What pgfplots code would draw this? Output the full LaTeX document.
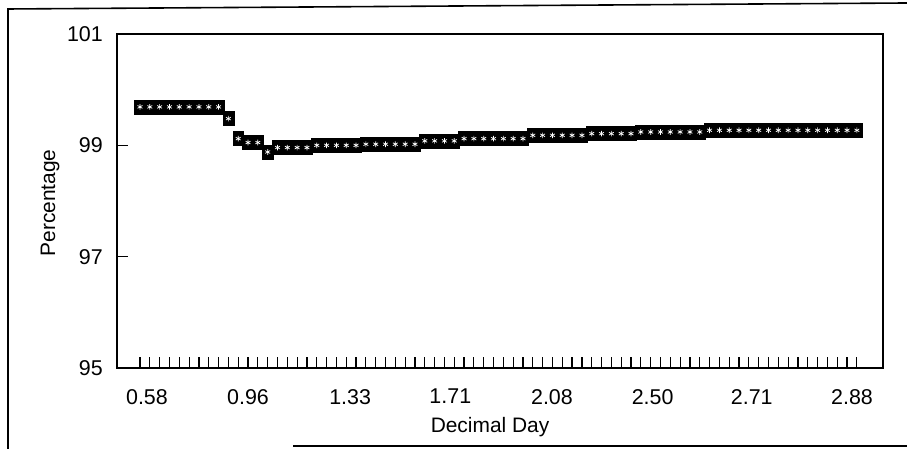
\documentclass[border=0pt]{standalone}
\usepackage{pgfplots}
\usepackage{pgfplotstable}
\pgfplotsset{compat=1.18}
\usepackage{fontspec}
\setmainfont{Liberation Sans}
\pgfplotstableread{
i v
0 99.69
1 99.69
2 99.69
3 99.69
4 99.69
5 99.69
6 99.69
7 99.69
8 99.69
9 99.48
10 99.12
11 99.05
12 99.05
13 98.88
14 98.96
15 98.96
16 98.96
17 98.96
18 99.00
19 99.00
20 99.00
21 99.00
22 99.00
23 99.02
24 99.02
25 99.02
26 99.02
27 99.02
28 99.02
29 99.08
30 99.08
31 99.08
32 99.08
33 99.12
34 99.12
35 99.12
36 99.12
37 99.12
38 99.12
39 99.12
40 99.18
41 99.18
42 99.18
43 99.18
44 99.18
45 99.18
46 99.21
47 99.21
48 99.21
49 99.21
50 99.21
51 99.24
52 99.24
53 99.24
54 99.24
55 99.24
56 99.24
57 99.24
58 99.27
59 99.27
60 99.27
61 99.27
62 99.27
63 99.27
64 99.27
65 99.27
66 99.27
67 99.27
68 99.27
69 99.27
70 99.27
71 99.27
72 99.27
73 99.27
}\datatable
\begin{document}
\begin{tikzpicture}[x=1bp,y=1bp]
\useasboundingbox (0,0) rectangle (907,449);
\draw[line width=1.6bp] (8,0) -- (8,440) -- (907,446);
\draw[line width=1.6bp] (293,3) -- (907,3);
\begin{axis}[
  at={(117bp,81bp)}, anchor=south west,
  scale only axis, width=766bp, height=334bp,
  xmin=-2.342, xmax=75.66, ymin=95, ymax=101,
  ytick={95,97,99,101},
  xtick={0.71,11.0,21.4,31.6,41.95,52.2,62.3,72.5},
  xticklabels={0.58,0.96,1.33,1.71,2.08,2.50,2.71,2.88},
  minor xtick={0,1,...,73},
  xtick pos=bottom, ytick pos=left,
  tick align=inside,
  major tick length=11bp, minor tick length=11bp,
  major x tick style={draw=none},
  every tick/.style={black, line width=1.2bp},
  axis line style={line width=1.6bp},
  /pgf/number format/assume math mode=true,
  tick label style={font=\fontsize{21.5}{25}\selectfont},
  yticklabel style={inner sep=0pt, anchor=east, xshift=-14bp},
  xticklabel style={inner sep=0pt, anchor=north, yshift=-21bp},
  label style={font=\fontsize{21}{25}\selectfont},
  xlabel={Decimal Day},
  ylabel={Percentage},
  xlabel style={at={(axis description cs:0.487,-0.178)}, anchor=center},
  ylabel style={at={(axis description cs:-0.0875,0.494)}, anchor=center},
  clip=false,
]
\addplot[only marks, mark=square*, mark size=5.4bp, mark options={fill=black, draw=black, yscale=1.3}] table[x=i, y=v] {\datatable};
\addplot[only marks, mark=asterisk, mark size=2.8bp, mark options={white, line width=0.7bp}] table[x=i, y=v] {\datatable};
\end{axis}
\end{tikzpicture}
\end{document}
